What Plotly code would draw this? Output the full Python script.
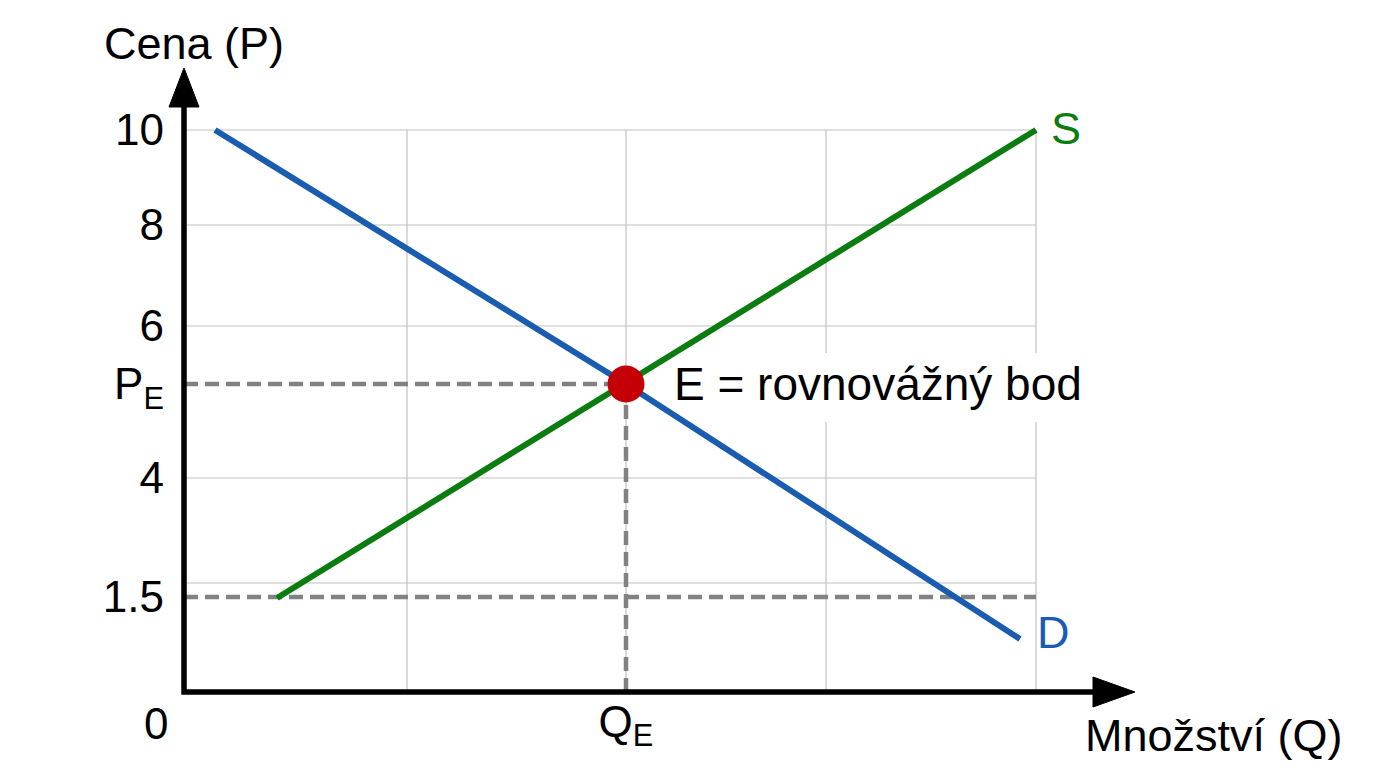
import plotly.graph_objects as go

# schematic units: 1 unit on either axis = 100 px, origin at the axis corner
q_grid = [2.23, 4.42, 6.42, 8.52]
p_grid = [5.62, 4.67, 3.66, 2.14, 1.09]

p_tick_pos = [5.62, 4.67, 3.66, 3.08, 2.14, 0.95]
p_tick_text = ["10", "8", "6", "P<sub>E</sub>", "4", "1.5"]
q_tick_pos = [4.42]
q_tick_text = ["Q<sub>E</sub>"]

demand_q = [0.31, 4.42, 8.36]
demand_p = [5.62, 3.08, 0.53]
supply_q = [0.93, 8.52]
supply_p = [0.94, 5.62]

q_e, p_e = 4.42, 3.08
p_min = 0.95          # the "1.5" price level
q_max = 8.52

FONT = "Liberation Sans, Arial, sans-serif"
FS = 44
FS_TXT = 45
BLUE = "#1a5cb0"
GREEN = "#0b7d10"
RED = "#c40006"
GREY = "#828282"
GRID = "#c2c2c2"

# page body has an 8 px margin, so the figure is a bit smaller than the window
W, H = 1368, 760

fig = go.Figure()

# dashed guides
guide = dict(color=GREY, width=4.5, dash="14px,7px")
fig.add_trace(go.Scatter(x=[0, q_e], y=[p_e, p_e], mode="lines", line=guide, hoverinfo="skip"))
fig.add_trace(go.Scatter(x=[q_e, q_e], y=[p_e, 0], mode="lines", line=guide, hoverinfo="skip"))
fig.add_trace(go.Scatter(x=[0, q_max], y=[p_min, p_min], mode="lines", line=guide, hoverinfo="skip"))

# curves
fig.add_trace(go.Scatter(x=demand_q, y=demand_p, mode="lines",
                         line=dict(color=BLUE, width=6), name="D"))
fig.add_trace(go.Scatter(x=supply_q, y=supply_p, mode="lines",
                         line=dict(color=GREEN, width=6), name="S"))
fig.add_trace(go.Scatter(x=[q_e], y=[p_e], mode="markers",
                         marker=dict(color=RED, size=37), cliponaxis=False))

shapes = []
for q in q_grid:
    shapes.append(dict(type="line", xref="x", yref="y", x0=q, x1=q, y0=0, y1=p_grid[0],
                       line=dict(color=GRID, width=1.2), layer="below"))
for p in p_grid:
    shapes.append(dict(type="line", xref="x", yref="y", x0=0, x1=q_max, y0=p, y1=p,
                       line=dict(color=GRID, width=1.2), layer="below"))

# white box behind the equilibrium label (hides grid, not the curves)
shapes.append(dict(type="rect", xref="x", yref="y", x0=4.86, x1=9.12, y0=p_e - 0.38, y1=p_e + 0.31,
                   fillcolor="white", line=dict(width=0), layer="below"))

# axes with arrowheads
shapes.append(dict(type="path", xref="x", yref="y", path="M 0 5.9 L 0 0 L 9.12 0",
                   line=dict(color="black", width=5.5)))
shapes.append(dict(type="path", xref="x", yref="y", path="M 0 6.24 L -0.15 5.85 L 0.15 5.85 Z",
                   fillcolor="black", line=dict(color="black", width=1)))
shapes.append(dict(type="path", xref="x", yref="y", path="M 9.51 0 L 9.09 -0.15 L 9.09 0.15 Z",
                   fillcolor="black", line=dict(color="black", width=1)))

annotations = [
    dict(x=0.10, y=6.49, text="Cena (P)", showarrow=False, font=dict(size=FS_TXT, color="black")),
    dict(x=10.30, y=-0.43, text="Množství (Q)", showarrow=False, font=dict(size=FS_TXT, color="black")),
    dict(x=-0.28, y=-0.31, text="0", showarrow=False, font=dict(size=FS, color="black")),
    dict(x=8.82, y=5.64, text="S", showarrow=False, font=dict(size=FS_TXT, color=GREEN)),
    dict(x=8.69, y=0.60, text="D", showarrow=False, font=dict(size=FS_TXT, color=BLUE)),
    dict(x=4.88, y=p_e, text="E = rovnovážný bod", showarrow=False, xanchor="left",
         font=dict(size=46, color="black")),
]

x0 = -1.76
y1 = 6.84
fig.update_layout(
    width=W, height=H,
    margin=dict(l=0, r=0, t=0, b=0),
    paper_bgcolor="white", plot_bgcolor="white",
    showlegend=False,
    font=dict(family=FONT, size=FS, color="black"),
    shapes=shapes,
    annotations=annotations,
    xaxis=dict(range=[x0, x0 + W / 100], showgrid=False, zeroline=False, showline=False,
               tickvals=q_tick_pos, ticktext=q_tick_text, ticks="", anchor="free",
               position=(H - y1 * 100) / H, ticklabelstandoff=0, automargin=False),
    yaxis=dict(range=[y1 - H / 100, y1], showgrid=False, zeroline=False, showline=False,
               tickvals=p_tick_pos, ticktext=p_tick_text, ticks="", anchor="free",
               position=(-x0 * 100) / W, ticklabelstandoff=20, automargin=False),
)

fig.write_html("out.html")
